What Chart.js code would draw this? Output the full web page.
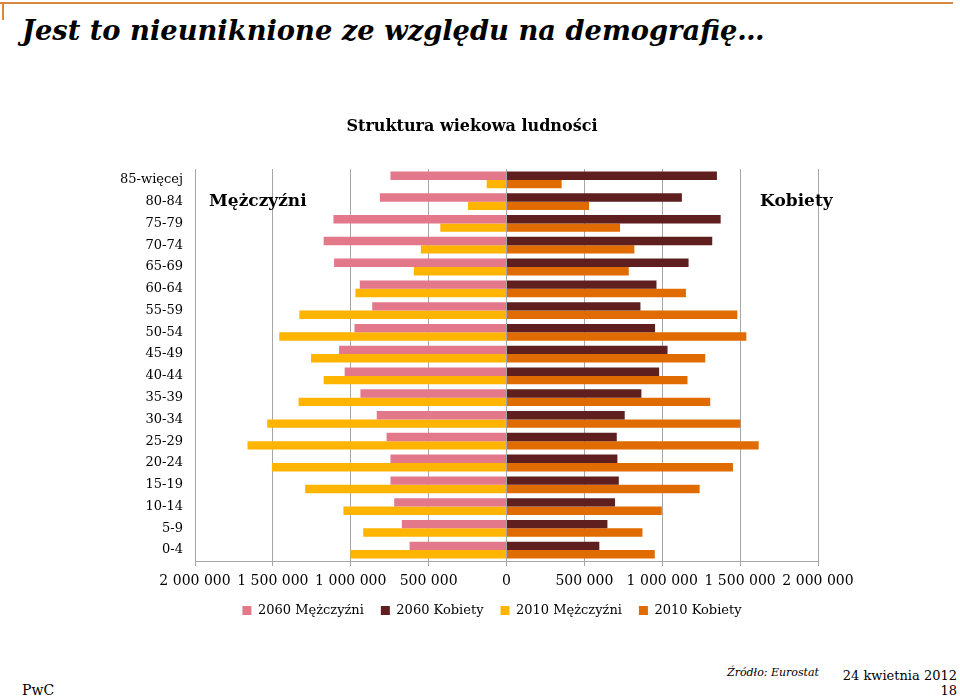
<!DOCTYPE html>
<html lang="pl">
<head>
<meta charset="utf-8">
<script src="https://cdn.jsdelivr.net/npm/chart.js@4/dist/chart.umd.min.js"></script>
<style>
  html, body { margin: 0; padding: 0; background: #ffffff; overflow: hidden; width: 960px; height: 697px; }
  .abs { position: absolute; white-space: nowrap; color: #000; }
  #topline { position: absolute; left: 0; top: 2px; width: 953px; height: 2px; background: #d9893f; }
  #topleft { position: absolute; left: 2px; top: 2px; width: 2px; height: 18px; background: #d9893f; }
  #headline { left: 22px; top: 12px; font: italic bold 27.3px/36px "DejaVu Serif", serif; }
  #ctitle { left: 0; width: 944px; text-align: center; top: 115px; font: bold 16px/22px "DejaVu Serif", serif; }
  #men { left: 209px; top: 188px; font: bold 17px/24px "DejaVu Serif", serif; }
  #women { left: 760px; top: 188px; font: bold 17px/24px "DejaVu Serif", serif; }
  #pwc { left: 22px; top: 681px; font: 14px/18px "DejaVu Serif", serif; }
  #src { left: 727px; top: 665px; font: italic 11px/15px "DejaVu Serif", serif; }
  #date { right: 3px; top: 667px; font: 13px/17px "DejaVu Serif", serif; text-align: right; }
  #page { right: 3px; top: 682px; font: 13px/17px "DejaVu Serif", serif; text-align: right; }
  #wrap { position: absolute; left: 0; top: 0; width: 984px; height: 640px; }
</style>
</head>
<body>
<div id="topline"></div><div id="topleft"></div>
<div class="abs" id="headline">Jest to nieuniknione ze względu na demografię…</div>
<div id="wrap"><canvas id="c" width="984" height="640"></canvas></div>
<div class="abs" id="ctitle">Struktura wiekowa ludności</div>
<div class="abs" id="men">Mężczyźni</div>
<div class="abs" id="women">Kobiety</div>
<div class="abs" id="pwc">PwC</div>
<div class="abs" id="src">Źródło: Eurostat</div>
<div class="abs" id="date">24 kwietnia 2012</div>
<div class="abs" id="page">18</div>
<script>
const ageGroups = ["85-więcej","80-84","75-79","70-74","65-69","60-64","55-59","50-54","45-49","40-44","35-39","30-34","25-29","20-24","15-19","10-14","5-9","0-4"];
const men2060   = [745000, 813000, 1111000, 1174000, 1107000, 942000, 862000, 976000, 1075000, 1039000, 938000, 833000, 770000, 745000, 745000, 721000, 672000, 622000];
const women2060 = [1351000, 1126000, 1375000, 1321000, 1169000, 963000, 860000, 954000, 1034000, 980000, 866000, 759000, 708000, 712000, 721000, 697000, 648000, 596000];
const men2010   = [127000, 247000, 425000, 550000, 595000, 970000, 1330000, 1459000, 1255000, 1174000, 1335000, 1536000, 1663000, 1506000, 1293000, 1047000, 920000, 1002000];
const women2010 = [354000, 530000, 729000, 821000, 785000, 1152000, 1482000, 1540000, 1276000, 1162000, 1308000, 1501000, 1619000, 1454000, 1240000, 997000, 873000, 952000];
const xTicks = [-2000000, -1500000, -1000000, -500000, 0, 500000, 1000000, 1500000, 2000000];

const neg = a => a.map(v => -v);
const fmt = v => String(Math.abs(v)).replace(/\B(?=(\d{3})+(?!\d))/g, " ");
const serif = '"DejaVu Serif", serif';
const gridCol = '#a6a6a6';

new Chart(document.getElementById('c'), {
  type: 'bar',
  data: {
    labels: ageGroups,
    datasets: [
      { label: '2060 Mężczyźni', data: neg(men2060), backgroundColor: '#e27889', stack: 's2060' },
      { label: '2060 Kobiety', data: women2060, backgroundColor: '#5f1f1f', stack: 's2060' },
      { label: '2010 Mężczyźni', data: neg(men2010), backgroundColor: '#ffb400', stack: 's2010' },
      { label: '2010 Kobiety', data: women2010, backgroundColor: '#e06b00', stack: 's2010' }
    ]
  },
  options: {
    indexAxis: 'y',
    responsive: false,
    animation: false,
    devicePixelRatio: 1,
    layout: { padding: { top: 169, right: 0, left: 0, bottom: 13 } },
    datasets: { bar: { categoryPercentage: 0.77, barPercentage: 1.0 } },
    scales: {
      x: {
        stacked: true,
        min: -2000000, max: 2000000,
        afterBuildTicks: s => { s.ticks = xTicks.map(v => ({ value: v })); },
        afterFit: s => { s.height = 26; },
        grid: { color: gridCol, lineWidth: 1, tickLength: 5, drawTicks: true },
        border: { color: gridCol },
        ticks: { callback: v => fmt(v), color: '#000', font: { family: serif, size: 14 }, padding: 7, maxRotation: 0, autoSkip: false }
      },
      y: {
        stacked: true,
        afterFit: s => { s.width = 195; },
        grid: { display: false, drawTicks: false },
        border: { display: true, color: gridCol },
        ticks: { color: '#000', font: { family: serif, size: 13 }, padding: 12, autoSkip: false }
      },
      yPad: {
        type: 'category',
        position: 'right',
        display: true,
        afterFit: s => { s.width = 166; },
        grid: { display: false, drawTicks: false },
        border: { display: false },
        ticks: { display: false }
      }
    },
    plugins: {
      legend: {
        position: 'bottom',
        labels: { boxWidth: 9, boxHeight: 9, padding: 17, color: '#000', font: { family: serif, size: 13 } }
      },
      title: { display: false },
      tooltip: { enabled: false }
    }
  }
});
</script>
</body>
</html>
